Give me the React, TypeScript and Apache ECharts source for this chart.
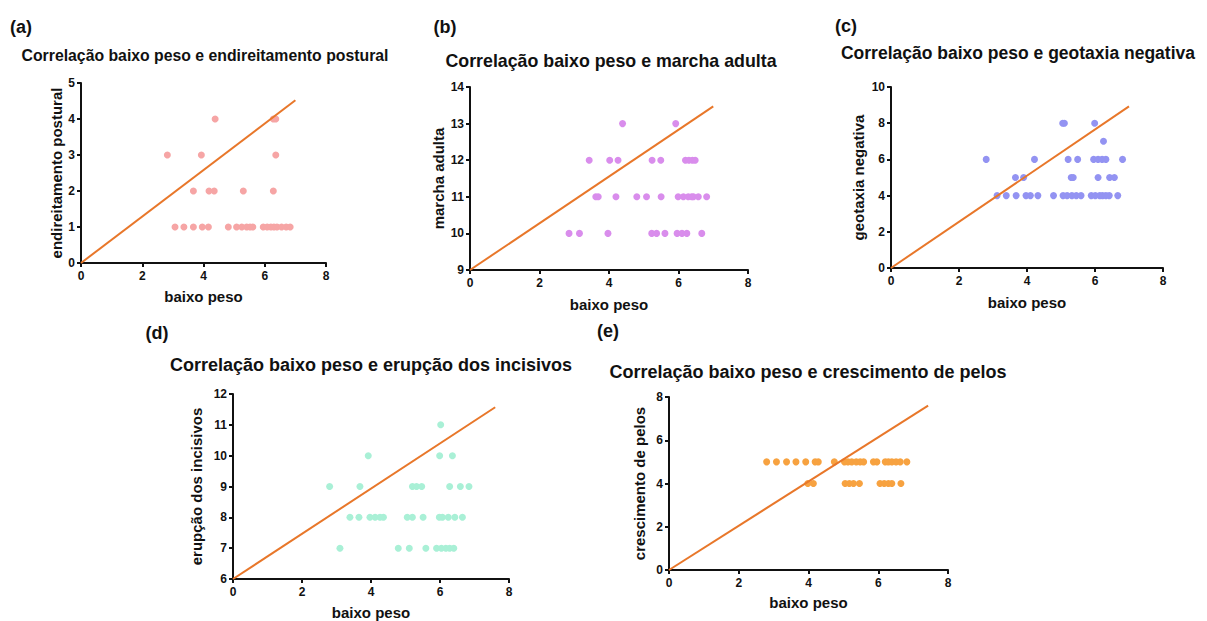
import React, { useEffect, useRef } from "react";
import * as echarts from "echarts";

// ---------- data ----------
const panelLabels = ["(a)", "(b)", "(c)", "(d)", "(e)"];
const titles = [
  "Correlação baixo peso e endireitamento postural",
  "Correlação baixo peso e marcha adulta",
  "Correlação baixo peso e geotaxia negativa",
  "Correlação baixo peso e erupção dos incisivos",
  "Correlação baixo peso e crescimento de pelos",
];
const xName = "baixo peso";
const yNames = [
  "endireitamento postural",
  "marcha adulta",
  "geotaxia negativa",
  "erupção dos incisivos",
  "crescimento de pelos",
];
const xMin = 0;
const xMax = 8;
const xStep = 2;
const yMin = [0, 9, 0, 6, 0];
const yMax = [5, 14, 10, 12, 8];
const yStep = [1, 1, 2, 1, 2];

// regression lines (start/end)
const lineX = [
  [0, 7.0],
  [0, 7.0],
  [0, 7.0],
  [0, 7.6],
  [0, 7.43],
];
const lineY = [
  [0, 4.52],
  [9, 13.47],
  [0, 8.93],
  [6, 11.57],
  [0, 7.6],
];

// (a) endireitamento postural
const aX = [
  3.07, 3.36, 3.67, 3.96, 4.16, 4.81, 5.08, 5.25, 5.41, 5.52, 5.61, 5.95, 6.08, 6.2, 6.3, 6.4, 6.55, 6.7, 6.83,
  3.67, 4.18, 4.35, 5.3, 6.28,
  2.82, 3.93, 6.36,
  4.38, 6.28, 6.36,
];
const aY = [
  1, 1, 1, 1, 1, 1, 1, 1, 1, 1, 1, 1, 1, 1, 1, 1, 1, 1, 1,
  2, 2, 2, 2, 2,
  3, 3, 3,
  4, 4, 4,
];

// (b) marcha adulta
const bX = [
  4.39, 5.92,
  3.43, 4.02, 4.26, 5.24, 5.49, 6.2, 6.3, 6.4, 6.48,
  3.62, 3.69, 4.2, 4.8, 5.08, 5.5, 5.99, 6.14, 6.28, 6.38, 6.43, 6.57, 6.81,
  2.85, 3.15, 3.97, 5.23, 5.37, 5.61, 5.96, 6.1, 6.24, 6.67,
];
const bY = [
  13, 13,
  12, 12, 12, 12, 12, 12, 12, 12, 12,
  11, 11, 11, 11, 11, 11, 11, 11, 11, 11, 11, 11, 11,
  10, 10, 10, 10, 10, 10, 10, 10, 10, 10,
];

// (c) geotaxia negativa
const cX = [
  5.05, 5.1, 5.99,
  6.25,
  2.8, 4.22, 5.21, 5.49, 5.96, 6.09, 6.21, 6.32, 6.81,
  3.66, 3.9, 5.3, 5.36, 6.09, 6.43, 6.57,
  3.12, 3.39, 3.68, 3.97, 4.1, 4.32, 4.78, 5.06, 5.18, 5.32, 5.45, 5.59, 5.89, 6.01, 6.14, 6.22, 6.32, 6.42, 6.67,
];
const cY = [
  8, 8, 8,
  7,
  6, 6, 6, 6, 6, 6, 6, 6, 6,
  5, 5, 5, 5, 5, 5, 5,
  4, 4, 4, 4, 4, 4, 4, 4, 4, 4, 4, 4, 4, 4, 4, 4, 4, 4, 4,
];

// (d) erupção dos incisivos
const dX = [
  6.02,
  3.92, 5.99, 6.36,
  2.8, 3.68, 5.2, 5.32, 5.47, 6.28, 6.59, 6.84,
  3.39, 3.65, 3.97, 4.12, 4.26, 4.36, 5.05, 5.2, 5.51, 5.98, 6.07, 6.24, 6.43, 6.65,
  3.1, 4.79, 5.11, 5.59, 5.9, 6.04, 6.17, 6.28, 6.4,
];
const dY = [
  11,
  10, 10, 10,
  9, 9, 9, 9, 9, 9, 9, 9,
  8, 8, 8, 8, 8, 8, 8, 8, 8, 8, 8, 8, 8, 8,
  7, 7, 7, 7, 7, 7, 7, 7, 7,
];

// (e) crescimento de pelos
const eX = [
  2.8, 3.08, 3.37, 3.64, 3.92, 4.19, 4.28, 4.74, 5.03, 5.13, 5.24, 5.37, 5.48, 5.58, 5.86, 5.96, 6.2, 6.29, 6.39, 6.51, 6.63, 6.82,
  3.98, 4.14, 5.05, 5.17, 5.29, 5.46, 6.05, 6.17, 6.29, 6.39, 6.65,
];
const eY = [
  5, 5, 5, 5, 5, 5, 5, 5, 5, 5, 5, 5, 5, 5, 5, 5, 5, 5, 5, 5, 5, 5,
  4, 4, 4, 4, 4, 4, 4, 4, 4, 4, 4,
];

const pointsX = [aX, bX, cX, dX, eX];
const pointsY = [aY, bY, cY, dY, eY];

// ---------- style / layout ----------
const dotColors = ["#F6A5A5", "#D98DEC", "#9393F2", "#A9F0D6", "#F7A240"];
const lineColor = "#E8772A";
const FONT = "'Liberation Sans', Arial, sans-serif";

const grids = [
  { left: 81, top: 83, width: 245, height: 180 },
  { left: 470, top: 87, width: 278, height: 183 },
  { left: 891, top: 87, width: 272, height: 181 },
  { left: 233, top: 394, width: 276, height: 185 },
  { left: 669, top: 397, width: 279, height: 173 },
];
const titlePos = [
  { x: 205, y: 55, size: 15.8 },
  { x: 611, y: 61, size: 17.8 },
  { x: 1018, y: 53, size: 17.5 },
  { x: 371, y: 365, size: 18 },
  { x: 808, y: 372, size: 18 },
];
const labelPos = [
  { x: 21, y: 27 },
  { x: 445, y: 27 },
  { x: 846, y: 26 },
  { x: 157, y: 333 },
  { x: 608, y: 331 },
];
const yNameGap = [17, 24, 25, 29, 22];
const xNameGap = [26, 27, 27, 26, 25];

export default function App() {
  const ref = useRef<HTMLDivElement>(null);

  useEffect(() => {
    if (!ref.current) return;
    const chart = echarts.init(ref.current, undefined, { renderer: "svg" });

    const axisLineStyle = { show: true, lineStyle: { color: "#111", width: 2 } };
    const axisTick = { show: true, inside: false, length: 4, lineStyle: { color: "#111", width: 2 } };
    const axisLabel = { color: "#111", fontWeight: "bold" as const, fontSize: 12, fontFamily: FONT };
    const nameStyle = { color: "#111", fontWeight: "bold" as const, fontSize: 15, fontFamily: FONT };

    const xAxis = grids.map((_, i) => ({
      type: "value",
      gridIndex: i,
      min: xMin,
      max: xMax,
      interval: xStep,
      name: xName,
      nameLocation: "middle",
      nameGap: xNameGap[i],
      nameTextStyle: nameStyle,
      axisLine: axisLineStyle,
      axisTick,
      axisLabel: { ...axisLabel, margin: 7 },
      splitLine: { show: false },
    }));
    const yAxis = grids.map((_, i) => ({
      type: "value",
      gridIndex: i,
      min: yMin[i],
      max: yMax[i],
      interval: yStep[i],
      name: yNames[i],
      nameLocation: "middle",
      nameGap: yNameGap[i],
      nameTextStyle: nameStyle,
      axisLine: axisLineStyle,
      axisTick,
      axisLabel: { ...axisLabel, margin: 6 },
      splitLine: { show: false },
    }));

    const series: any[] = [];
    grids.forEach((_, i) => {
      series.push({
        type: "line",
        xAxisIndex: i,
        yAxisIndex: i,
        data: lineX[i].map((x, k) => [x, lineY[i][k]]),
        showSymbol: false,
        symbol: "none",
        lineStyle: { color: lineColor, width: 2 },
        z: 3,
      });
      series.push({
        type: "scatter",
        xAxisIndex: i,
        yAxisIndex: i,
        data: pointsX[i].map((x, k) => [x, pointsY[i][k]]),
        symbol: "circle",
        symbolSize: 7,
        itemStyle: { color: dotColors[i], opacity: 1 },
        z: 2,
      });
    });

    const graphic: any[] = [];
    titles.forEach((t, i) => {
      graphic.push({
        type: "text",
        x: titlePos[i].x,
        y: titlePos[i].y,
        style: {
          text: t,
          fill: "#111",
          font: `bold ${titlePos[i].size}px ${FONT}`,
          textAlign: "center",
          textVerticalAlign: "middle",
        },
      });
    });
    panelLabels.forEach((t, i) => {
      graphic.push({
        type: "text",
        x: labelPos[i].x,
        y: labelPos[i].y,
        style: {
          text: t,
          fill: "#111",
          font: `bold 18px ${FONT}`,
          textAlign: "center",
          textVerticalAlign: "middle",
        },
      });
    });

    chart.setOption({
      animation: false,
      backgroundColor: "#ffffff",
      grid: grids.map((g) => ({ ...g, containLabel: false })),
      xAxis,
      yAxis,
      series,
      graphic,
    });

    return () => chart.dispose();
  }, []);

  return (
    <div
      ref={ref}
      style={{ position: "fixed", left: 0, top: 0, width: 1207, height: 621, background: "#fff" }}
    />
  );
}
